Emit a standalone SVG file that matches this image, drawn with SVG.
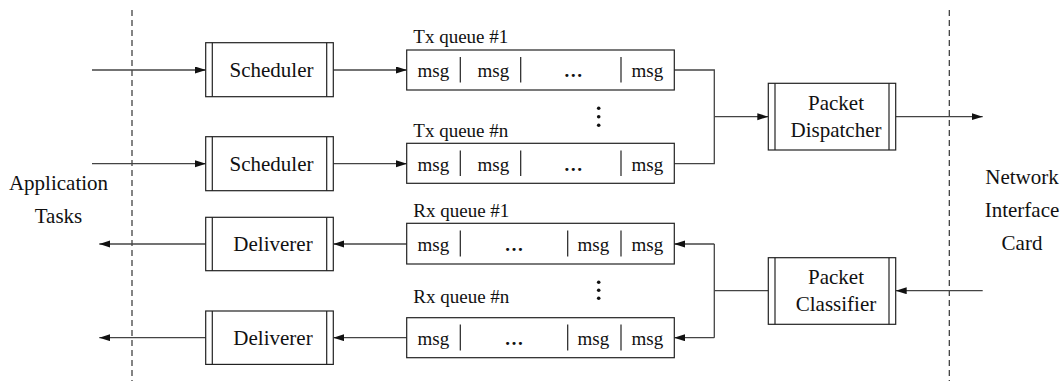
<svg xmlns="http://www.w3.org/2000/svg" width="1063" height="381" viewBox="0 0 1063 381">
  <style>
    .box { fill: #fff; stroke: #222; stroke-width: 1.2; }
    .bar { stroke: #222; stroke-width: 1.2; }
    .wire { fill: none; stroke: #444; stroke-width: 1.3; }
    .arr { marker-end: url(#head); }
    .dash { stroke: #333; stroke-width: 1.2; stroke-dasharray: 6 4; }
    .t { font-family: "Liberation Serif", "Times New Roman", serif; fill: #111; }
    .big { font-size: 21px; text-anchor: middle; }
    .q { font-size: 19px; }
    .m { font-size: 19px; text-anchor: middle; }
    .ell { font-size: 19px; text-anchor: middle; font-weight: bold; }
  </style>
  <defs>
    <marker id="head" markerUnits="userSpaceOnUse" markerWidth="12" markerHeight="8" refX="11" refY="3.5" orient="auto">
      <path d="M0,0 L11,3.5 L0,7 z" fill="#111"/>
    </marker>
  </defs>
  <rect width="1063" height="381" fill="#fff"/>

  <!-- boundaries -->
  <g id="boundaries">
    <line class="dash" x1="132" y1="10" x2="132" y2="381"/>
    <line class="dash" x1="949.3" y1="10" x2="949.3" y2="381"/>
  </g>

  <!-- side labels -->
  <g id="app-tasks">
    <text class="t big" x="58.5" y="190">Application</text>
    <text class="t big" x="58.5" y="223">Tasks</text>
  </g>
  <g id="nic">
    <text class="t big" x="1022" y="184">Network</text>
    <text class="t big" x="1022" y="217">Interface</text>
    <text class="t big" x="1022" y="250">Card</text>
  </g>

  <!-- connectors -->
  <g id="connectors">
    <path class="wire arr" d="M92,70 H206"/>
    <path class="wire arr" d="M92,163.7 H206"/>
    <path class="wire arr" d="M333.3,70 H407"/>
    <path class="wire arr" d="M333.3,163.7 H407"/>
    <path class="wire" d="M674,70 H714.3 V163.7 H674"/>
    <path class="wire arr" d="M714.3,116.7 H768.3"/>
    <path class="wire arr" d="M895.7,116.7 H982.7"/>
    <path class="wire arr" d="M982.7,290.7 H895.7"/>
    <path class="wire" d="M768.3,290.7 H714.3"/>
    <path class="wire" d="M714.3,244 V337.7"/>
    <path class="wire arr" d="M714.3,244 H674"/>
    <path class="wire arr" d="M714.3,337.7 H674"/>
    <path class="wire arr" d="M407,244 H333.3"/>
    <path class="wire arr" d="M407,337.7 H333.3"/>
    <path class="wire arr" d="M206,244 H99.3"/>
    <path class="wire arr" d="M206,337.7 H99.3"/>
  </g>

  <!-- schedulers -->
  <g id="scheduler-1">
    <rect class="box" x="205.7" y="42.7" width="127.6" height="54"/>
    <line class="bar" x1="212.3" y1="42.7" x2="212.3" y2="96.7"/>
    <line class="bar" x1="326.7" y1="42.7" x2="326.7" y2="96.7"/>
    <text class="t big" x="271.5" y="77">Scheduler</text>
  </g>
  <g id="scheduler-n">
    <rect class="box" x="205.7" y="136.7" width="127.6" height="54"/>
    <line class="bar" x1="212.3" y1="136.7" x2="212.3" y2="190.7"/>
    <line class="bar" x1="326.7" y1="136.7" x2="326.7" y2="190.7"/>
    <text class="t big" x="271.5" y="171">Scheduler</text>
  </g>

  <!-- deliverers -->
  <g id="deliverer-1">
    <rect class="box" x="205.7" y="217.3" width="127.6" height="53.4"/>
    <line class="bar" x1="212.3" y1="217.3" x2="212.3" y2="270.7"/>
    <line class="bar" x1="326.7" y1="217.3" x2="326.7" y2="270.7"/>
    <text class="t big" x="273" y="251">Deliverer</text>
  </g>
  <g id="deliverer-n">
    <rect class="box" x="205.7" y="311" width="127.6" height="53.4"/>
    <line class="bar" x1="212.3" y1="311" x2="212.3" y2="364.4"/>
    <line class="bar" x1="326.7" y1="311" x2="326.7" y2="364.4"/>
    <text class="t big" x="273" y="345">Deliverer</text>
  </g>

  <!-- transmit queues -->
  <g id="tx-queue-1">
    <text class="t q" x="413.3" y="43.3">Tx queue #1</text>
    <rect class="box" x="406.7" y="50" width="267.6" height="40"/>
    <line class="bar" x1="460.3" y1="57" x2="460.3" y2="82.5"/>
    <line class="bar" x1="520.7" y1="57" x2="520.7" y2="82.5"/>
    <line class="bar" x1="621" y1="57" x2="621" y2="82.5"/>
    <text class="t m" x="433.3" y="77">msg</text>
    <text class="t m" x="493.3" y="77">msg</text>
    <text class="t ell" x="573.3" y="77">…</text>
    <text class="t m" x="647.3" y="77">msg</text>
  </g>
  <g id="tx-gap">
    <circle cx="598.7" cy="108.3" r="1.8" fill="#111"/>
    <circle cx="598.7" cy="116.7" r="1.8" fill="#111"/>
    <circle cx="598.7" cy="125.2" r="1.8" fill="#111"/>
  </g>
  <g id="tx-queue-n">
    <text class="t q" x="413.3" y="136.7">Tx queue #n</text>
    <rect class="box" x="406.7" y="143.3" width="267.6" height="40"/>
    <line class="bar" x1="460.3" y1="150.5" x2="460.3" y2="176"/>
    <line class="bar" x1="520.7" y1="150.5" x2="520.7" y2="176"/>
    <line class="bar" x1="621" y1="150.5" x2="621" y2="176"/>
    <text class="t m" x="433.3" y="170.5">msg</text>
    <text class="t m" x="493.3" y="170.5">msg</text>
    <text class="t ell" x="573.3" y="170.5">…</text>
    <text class="t m" x="647.3" y="170.5">msg</text>
  </g>

  <!-- receive queues -->
  <g id="rx-queue-1">
    <text class="t q" x="413.3" y="216.7">Rx queue #1</text>
    <rect class="box" x="406.7" y="223.3" width="267.6" height="40.7"/>
    <line class="bar" x1="460.3" y1="230.5" x2="460.3" y2="256.5"/>
    <line class="bar" x1="567.7" y1="230.5" x2="567.7" y2="256.5"/>
    <line class="bar" x1="621" y1="230.5" x2="621" y2="256.5"/>
    <text class="t m" x="433.3" y="251">msg</text>
    <text class="t ell" x="514" y="251">…</text>
    <text class="t m" x="593.3" y="251">msg</text>
    <text class="t m" x="647.3" y="251">msg</text>
  </g>
  <g id="rx-gap">
    <circle cx="598.7" cy="282.3" r="1.8" fill="#111"/>
    <circle cx="598.7" cy="290.3" r="1.8" fill="#111"/>
    <circle cx="598.7" cy="298.3" r="1.8" fill="#111"/>
  </g>
  <g id="rx-queue-n">
    <text class="t q" x="413.3" y="303.3">Rx queue #n</text>
    <rect class="box" x="406.7" y="317.7" width="267.6" height="40"/>
    <line class="bar" x1="460.3" y1="324.5" x2="460.3" y2="350.5"/>
    <line class="bar" x1="567.7" y1="324.5" x2="567.7" y2="350.5"/>
    <line class="bar" x1="621" y1="324.5" x2="621" y2="350.5"/>
    <text class="t m" x="433.3" y="345">msg</text>
    <text class="t ell" x="514" y="345">…</text>
    <text class="t m" x="593.3" y="345">msg</text>
    <text class="t m" x="647.3" y="345">msg</text>
  </g>

  <!-- packet stages -->
  <g id="packet-dispatcher">
    <rect class="box" x="768.3" y="83.3" width="127.4" height="66.7"/>
    <line class="bar" x1="775" y1="83.3" x2="775" y2="150"/>
    <line class="bar" x1="889" y1="83.3" x2="889" y2="150"/>
    <text class="t big" x="836" y="110">Packet</text>
    <text class="t big" x="836" y="137.3">Dispatcher</text>
  </g>
  <g id="packet-classifier">
    <rect class="box" x="768.3" y="257.7" width="127.4" height="66.6"/>
    <line class="bar" x1="775" y1="257.7" x2="775" y2="324.3"/>
    <line class="bar" x1="889" y1="257.7" x2="889" y2="324.3"/>
    <text class="t big" x="836" y="284">Packet</text>
    <text class="t big" x="836" y="310.7">Classifier</text>
  </g>
</svg>
